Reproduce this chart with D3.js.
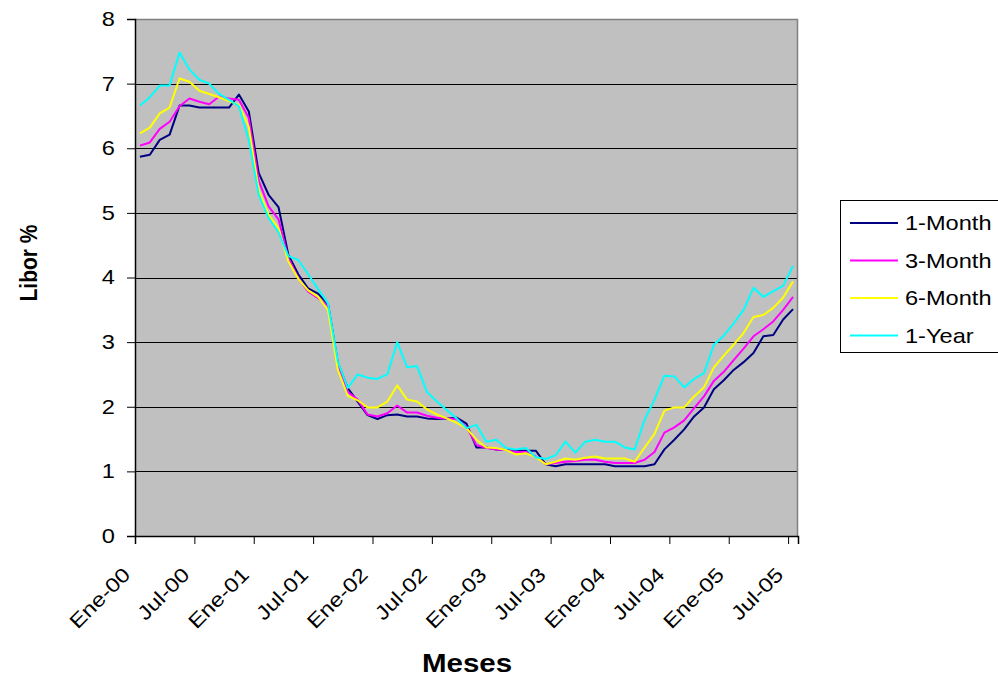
<!DOCTYPE html>
<html>
<head>
<meta charset="utf-8">
<script src="https://cdn.jsdelivr.net/npm/d3@7"></script>
<style>
  html, body { margin: 0; padding: 0; background: #ffffff; }
  svg { display: block; font-family: Arial, "Liberation Sans", sans-serif; }
</style>
</head>
<body>
<svg id="chart" width="998" height="678"></svg>
<script>
// Monthly USD Libor rates, Jan 2000 – Jul 2005
const monthNames = ["Ene","Feb","Mar","Abr","May","Jun","Jul","Ago","Sep","Oct","Nov","Dic"];
const years = ["00","01","02","03","04","05"];
const categories = [];
years.forEach(y => monthNames.forEach(m => categories.push(m + "-" + y)));
categories.length = 67; // through Jul-05

const tickLabels = ["Ene-00","Jul-00","Ene-01","Jul-01","Ene-02","Jul-02",
                    "Ene-03","Jul-03","Ene-04","Jul-04","Ene-05","Jul-05"];
const yTicks = [0, 1, 2, 3, 4, 5, 6, 7, 8];

const libor1M = [5.87,5.90,6.13,6.21,6.66,6.66,6.63,6.63,6.63,6.63,6.83,6.57,
                 5.62,5.28,5.09,4.35,4.05,3.83,3.75,3.59,2.68,2.29,2.08,1.87,
                 1.81,1.87,1.88,1.85,1.85,1.82,1.81,1.82,1.83,1.74,1.37,1.37,
                 1.34,1.33,1.32,1.32,1.32,1.11,1.08,1.11,1.11,1.11,1.11,1.11,
                 1.08,1.08,1.08,1.08,1.11,1.34,1.49,1.65,1.85,1.99,2.27,2.41,
                 2.57,2.69,2.83,3.09,3.11,3.35,3.51];
const libor3M = [6.04,6.09,6.30,6.41,6.65,6.77,6.72,6.68,6.80,6.77,6.75,6.47,
                 5.50,5.10,4.90,4.30,3.99,3.78,3.68,3.56,2.64,2.23,2.11,1.88,
                 1.85,1.90,2.02,1.91,1.91,1.86,1.83,1.82,1.81,1.69,1.41,1.36,
                 1.34,1.33,1.30,1.30,1.23,1.11,1.13,1.15,1.16,1.18,1.18,1.15,
                 1.13,1.13,1.13,1.18,1.30,1.60,1.68,1.79,1.98,2.16,2.40,2.54,
                 2.72,2.90,3.09,3.20,3.32,3.50,3.70];
const libor6M = [6.23,6.32,6.54,6.63,7.08,7.03,6.89,6.84,6.79,6.73,6.67,6.33,
                 5.36,4.97,4.76,4.25,3.98,3.80,3.70,3.50,2.57,2.17,2.10,1.99,
                 1.99,2.08,2.33,2.11,2.08,1.96,1.88,1.82,1.75,1.67,1.49,1.37,
                 1.36,1.33,1.26,1.28,1.22,1.11,1.15,1.20,1.18,1.21,1.23,1.20,
                 1.20,1.20,1.15,1.37,1.58,1.94,1.99,1.99,2.16,2.30,2.61,2.79,
                 2.96,3.14,3.39,3.42,3.53,3.69,3.94];
const libor1Y = [6.66,6.79,6.97,6.97,7.48,7.22,7.06,7.00,6.84,6.75,6.65,6.13,
                 5.28,4.92,4.70,4.33,4.27,4.05,3.82,3.60,2.70,2.29,2.50,2.45,
                 2.43,2.50,3.00,2.61,2.63,2.23,2.08,1.95,1.82,1.67,1.72,1.46,
                 1.49,1.36,1.34,1.36,1.22,1.19,1.25,1.46,1.29,1.46,1.49,1.46,
                 1.46,1.37,1.34,1.80,2.11,2.48,2.47,2.30,2.43,2.52,2.96,3.10,
                 3.29,3.50,3.84,3.70,3.79,3.87,4.18];

const seriesNames = ["1-Month","3-Month","6-Month","1-Year"];
const seriesColors = ["#000080","#ff00ff","#ffff00","#00ffff"];
const seriesValues = [libor1M, libor3M, libor6M, libor1Y];

// Layout
const plot = { left: 135, right: 798, top: 19, bottom: 536 };
const textStretch = 1.18; // horizontal widening of the chart lettering

const svg = d3.select("#chart");

const xBand = d3.scaleBand().domain(categories).range([plot.left, plot.right]).padding(0);
const xEdge = d3.scaleLinear().domain([0, categories.length]).range([plot.left, plot.right]);
const y = d3.scaleLinear().domain([0, 8]).range([plot.bottom, plot.top]);

// Plot area background
svg.append("rect")
  .attr("x", plot.left).attr("y", plot.top)
  .attr("width", plot.right - plot.left).attr("height", plot.bottom - plot.top)
  .attr("fill", "#c0c0c0");

// Horizontal gridlines
svg.append("g").selectAll("line")
  .data(yTicks.filter(t => t > 0 && t < 8))
  .join("line")
  .attr("x1", plot.left).attr("x2", plot.right)
  .attr("y1", d => Math.round(y(d)) + 0.5).attr("y2", d => Math.round(y(d)) + 0.5)
  .attr("stroke", "#000").attr("stroke-width", 1);

// Top and right border of the plot area
svg.append("path")
  .attr("d", `M${plot.left},${plot.top + 0.5}H${plot.right - 0.5}V${plot.bottom}`)
  .attr("fill", "none").attr("stroke", "#808080").attr("stroke-width", 1.5);

// Series lines
const line = d3.line()
  .x((d, i) => xBand(categories[i]) + xBand.bandwidth() / 2)
  .y(d => y(d));

svg.append("g").selectAll("path")
  .data(seriesValues)
  .join("path")
  .attr("d", d => line(d))
  .attr("fill", "none")
  .attr("stroke", (d, i) => seriesColors[i])
  .attr("stroke-width", 2)
  .attr("stroke-linejoin", "round");

// Y axis
const yAxis = svg.append("g")
  .attr("transform", `translate(${plot.left},0)`)
  .call(d3.axisLeft(y).tickValues(yTicks).tickSize(8).tickPadding(12).tickFormat(d3.format("d")));
yAxis.select(".domain").attr("stroke", "#000").attr("stroke-width", 1.5);
yAxis.selectAll(".tick line").attr("stroke", "#000");
yAxis.selectAll(".tick text")
  .attr("font-size", 20).attr("fill", "#000")
  .attr("font-family", "Arial, 'Liberation Sans', sans-serif")
  .attr("x", -20 / textStretch)
  .attr("transform", `scale(${textStretch},1)`);

// X axis: ticks on category boundaries, every six months
const xAxis = svg.append("g")
  .attr("transform", `translate(0,${plot.bottom})`)
  .call(d3.axisBottom(xEdge)
    .tickValues(tickLabels.map(l => categories.indexOf(l)))
    .tickSize(8)
    .tickFormat(i => categories[i]));
xAxis.select(".domain").attr("stroke", "#000").attr("stroke-width", 1.5);
xAxis.selectAll(".tick line").attr("stroke", "#000");
xAxis.selectAll(".tick text")
  .attr("font-size", 20).attr("fill", "#000")
  .attr("font-family", "Arial, 'Liberation Sans', sans-serif")
  .attr("text-anchor", "end")
  .attr("x", 0).attr("y", 0).attr("dy", 0)
  .attr("transform", `translate(-4,40) rotate(-45) scale(${textStretch},1)`);

// Axis titles
svg.append("text")
  .attr("transform", `translate(467,672) scale(${textStretch},1)`)
  .attr("text-anchor", "middle")
  .attr("font-size", 25).attr("font-weight", "bold")
  .text("Meses");

svg.append("text")
  .attr("transform", `translate(37,263) scale(${textStretch},1) rotate(-90)`)
  .attr("text-anchor", "middle")
  .attr("font-size", 21).attr("font-weight", "bold")
  .attr("font-family", "Arial, 'Liberation Sans', sans-serif")
  .text("Libor %");

// Legend
const legend = svg.append("g");
legend.append("rect")
  .attr("x", 840.5).attr("y", 200.5).attr("width", 160).attr("height", 152)
  .attr("fill", "#fff").attr("stroke", "#000").attr("stroke-width", 1);
const items = legend.selectAll("g.item")
  .data(seriesNames)
  .join("g")
  .attr("class", "item")
  .attr("transform", (d, i) => `translate(850,${223 + i * 37.5})`);
items.append("line")
  .attr("x1", 0).attr("x2", 48).attr("y1", 0).attr("y2", 0)
  .attr("stroke", (d, i) => seriesColors[i]).attr("stroke-width", 2);
items.append("text")
  .attr("transform", `translate(55,7) scale(${textStretch},1)`)
  .attr("font-size", 20)
  .text(d => d);
</script>
</body>
</html>
